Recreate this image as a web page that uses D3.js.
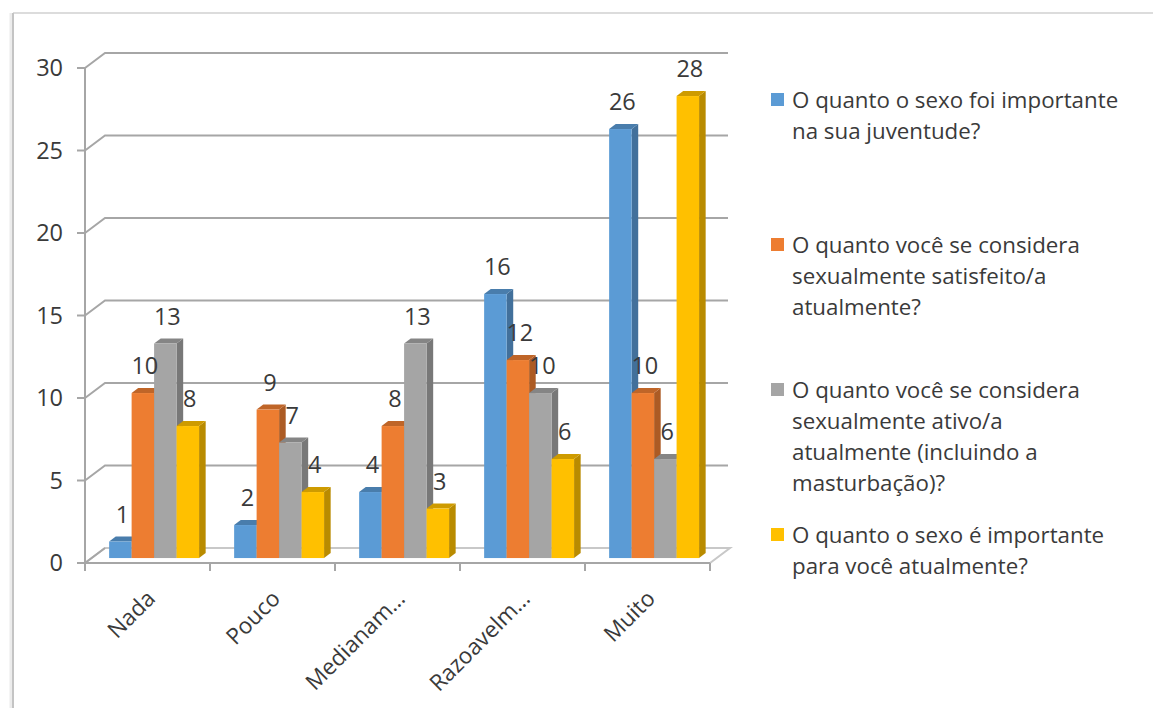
<!DOCTYPE html>
<html>
<head>
<meta charset="utf-8">
<script src="https://cdn.jsdelivr.net/npm/d3@7"></script>
<style>
    html, body { margin: 0; padding: 0; background: #fff; }
    svg text { font-family: "Open Sans", "DejaVu Sans", sans-serif; fill: #3a3a3a; }
</style>
</head>
<body>
<svg id="chart" width="1153" height="708"></svg>
<script>
// Chart data
const categories = ["Nada", "Pouco", "Medianam…", "Razoavelm…", "Muito"];
const juventude = [1, 2, 4, 16, 26];
const satisfeito = [10, 9, 8, 12, 10];
const ativo = [13, 7, 13, 10, 6];
const importante = [8, 4, 3, 6, 28];
const yTicks = [0, 5, 10, 15, 20, 25, 30];
const legendLines = [
    ["O quanto o sexo foi importante", "na sua juventude?"],
    ["O quanto você se considera", "sexualmente satisfeito/a", "atualmente?"],
    ["O quanto você se considera", "sexualmente ativo/a", "atualmente (incluindo a", "masturbação)?"],
    ["O quanto o sexo é importante", "para você atualmente?"]
];
const colors = ["#5B9BD5", "#ED7D31", "#A5A5A5", "#FFC000"];

const seriesValues = [juventude, satisfeito, ativo, importante];

let svg = d3.select("#chart");

// Depth of the 3d box (back wall offset)
const depth = {x: 20, y: -15};
const barDepthStart = 0.33;
const barDepthSize = 0.33;

let x = d3.scaleBand()
          .domain(categories)
          .range([85, 710]);

let inner = d3.scaleBand()
              .domain(d3.range(seriesValues.length))
              .range([0, x.bandwidth()])
              .paddingOuter(0.78);

let y = d3.scaleLinear()
          .domain([0, 30])
          .range([563, 68]);

drawFrame();
drawWalls();
drawBars();
drawLabels();
drawLegend();

// Outer chart border (top and left)
function drawFrame() {
    svg.append("line")
       .attr("x1", 13).attr("y1", 13).attr("x2", 1153).attr("y2", 13)
       .attr("stroke", "#dcdcdc").attr("stroke-width", 2);
    svg.append("line")
       .attr("x1", 11).attr("y1", 13).attr("x2", 11).attr("y2", 708)
       .attr("stroke", "#ececec").attr("stroke-width", 3);
    svg.append("line")
       .attr("x1", 13).attr("y1", 13).attr("x2", 13).attr("y2", 708)
       .attr("stroke", "#c4c4c4").attr("stroke-width", 2);
}

// Floor, back wall gridlines, side wall and axes
function drawWalls() {
    let x0 = x.range()[0], x1 = x.range()[1];

    // floor
    svg.append("path")
       .attr("d", `M${x0},${y(0)}L${x1},${y(0)}L${x1 + depth.x},${y(0) + depth.y}L${x0 + depth.x},${y(0) + depth.y}Z`)
       .attr("fill", "#fff")
       .attr("stroke", "#c8c8c8")
       .attr("stroke-width", 2);

    // gridlines on back wall + side wall diagonals
    let grid = svg.append("g")
                  .attr("fill", "none")
                  .attr("stroke", "#a6a6a6")
                  .attr("stroke-width", 2);

    grid.selectAll("path.grid")
        .data(yTicks.filter(d => d > 0))
        .enter()
        .append("path")
        .attr("class", "grid")
        .attr("d", d => `M${x0},${y(d)}L${x0 + depth.x},${y(d) + depth.y}L${x1 + depth.x - 2},${y(d) + depth.y}`);

    grid.append("path")
        .attr("d", `M${x0},${y(0)}L${x0 + depth.x},${y(0) + depth.y}`);

    // y axis line and ticks
    grid.append("line")
        .attr("x1", x0).attr("y1", y(30)).attr("x2", x0).attr("y2", y(0));

    grid.selectAll("line.ytick")
        .data(yTicks)
        .enter()
        .append("line")
        .attr("class", "ytick")
        .attr("x1", x0 - 8).attr("x2", x0)
        .attr("y1", d => y(d)).attr("y2", d => y(d));

    svg.selectAll("text.ylabel")
       .data(yTicks)
       .enter()
       .append("text")
       .attr("class", "ylabel")
       .attr("x", 63)
       .attr("y", d => y(d))
       .attr("dy", "0.35em")
       .attr("text-anchor", "end")
       .attr("font-size", 23.5)
       .text(d => d);

    // x axis line and ticks
    grid.append("line")
        .attr("x1", x0).attr("y1", y(0)).attr("x2", x1).attr("y2", y(0));

    let tickXs = categories.map(c => x(c)).concat([x1]);
    grid.selectAll("line.xtick")
        .data(tickXs)
        .enter()
        .append("line")
        .attr("class", "xtick")
        .attr("x1", d => d).attr("x2", d => d)
        .attr("y1", y(0)).attr("y2", y(0) + 8);

    svg.selectAll("text.xlabel")
       .data(categories)
       .enter()
       .append("text")
       .attr("class", "xlabel")
       .attr("text-anchor", "end")
       .attr("font-size", 22.5)
       .attr("transform", d => `translate(${x(d) + x.bandwidth() / 2 + 9},${y(0) + 37}) rotate(-45)`)
       .text(d => d);
}

// Bars drawn as 3d boxes: side, top, front
function drawBars() {
    let ox = depth.x * barDepthStart, oy = depth.y * barDepthStart;
    let dx = depth.x * barDepthSize, dy = depth.y * barDepthSize;

    categories.forEach((cat, ci) => {
        seriesValues.forEach((vals, si) => {
            let left = x(cat) + inner(si) + ox;
            let right = left + inner.bandwidth();
            let top = y(vals[ci]) + oy;
            let bottom = y(0) + oy;
            let base = d3.color(colors[si]);
            let g = svg.append("g").attr("class", "bar");

            g.append("path")
             .attr("d", `M${right},${top}L${right + dx},${top + dy}L${right + dx},${bottom + dy}L${right},${bottom}Z`)
             .attr("fill", base.darker(0.9));

            g.append("path")
             .attr("d", `M${left},${top}L${left + dx},${top + dy}L${right + dx},${top + dy}L${right},${top}Z`)
             .attr("fill", base.darker(0.6));

            g.append("rect")
             .attr("x", left)
             .attr("y", top)
             .attr("width", inner.bandwidth())
             .attr("height", bottom - top)
             .attr("fill", colors[si]);
        });
    });
}

// Value labels above the bars
function drawLabels() {
    let ox = depth.x * barDepthStart, oy = depth.y * barDepthStart;
    categories.forEach((cat, ci) => {
        seriesValues.forEach((vals, si) => {
            svg.append("text")
               .attr("x", x(cat) + inner(si) + ox + inner.bandwidth() / 2 + 2)
               .attr("y", y(vals[ci]) + oy - 19)
               .attr("text-anchor", "middle")
               .attr("font-size", 23.5)
               .text(vals[ci]);
        });
    });
}

// Legend on the right
function drawLegend() {
    const entryTops = [100, 245, 390, 535];
    const lineHeight = 31;

    let items = svg.selectAll("g.legend")
                   .data(legendLines)
                   .enter()
                   .append("g")
                   .attr("class", "legend")
                   .attr("transform", (d, i) => `translate(771,${entryTops[i]})`);

    items.append("rect")
         .attr("x", 0).attr("y", -7)
         .attr("width", 13).attr("height", 13)
         .attr("fill", (d, i) => colors[i]);

    items.selectAll("text")
         .data(d => d)
         .enter()
         .append("text")
         .attr("x", 21)
         .attr("y", (d, i) => i * lineHeight)
         .attr("dy", "0.35em")
         .attr("font-size", 22.3)
         .text(d => d);
}
</script>
</body>
</html>
